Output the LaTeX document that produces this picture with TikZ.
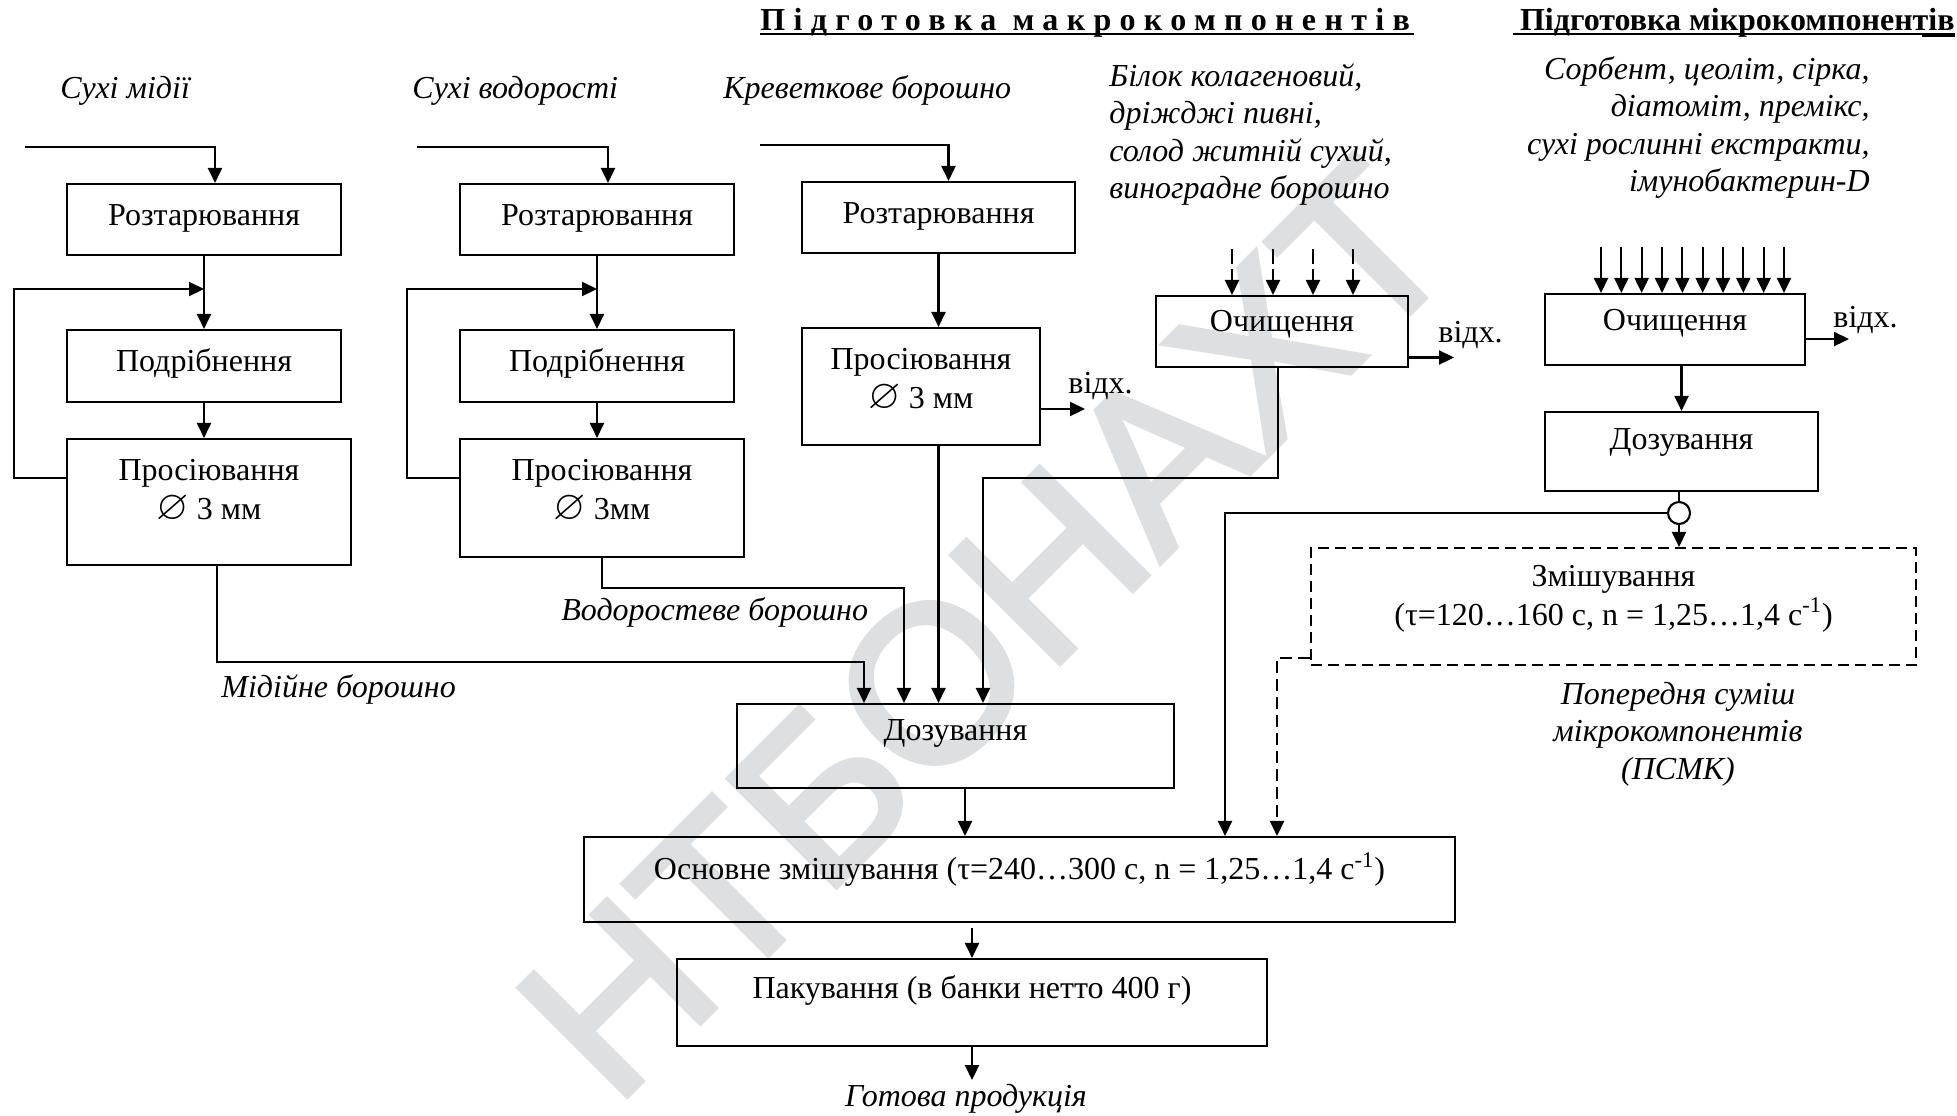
\documentclass[tikz,border=0pt]{standalone}
\usepackage{amssymb}
\usepackage{fontspec}
\setmainfont{Liberation Serif}
\newfontfamily\wmfont[FakeBold=2.5]{Liberation Sans}
\usetikzlibrary{arrows.meta,fit,calc}
\definecolor{wm}{RGB}{222,223,225}
\newcommand{\dia}{\scalebox{1.3}{$\varnothing$}}
\begin{document}
\begin{tikzpicture}[x=0.5pt,y=-0.5pt,
  every node/.style={font=\fontsize{16}{19.5}\selectfont},
  box/.style={draw,line width=1.05pt,inner sep=0pt},
  dbox/.style={box,dash pattern=on 5.5pt off 3pt},
  bt/.style={align=center,inner sep=0pt},
  lbl/.style={font=\fontsize{16}{18.75}\selectfont\itshape,inner sep=0pt},
  arr/.style={line width=1.05pt,-{Triangle[length=7.5pt,width=7pt]}},
  darr/.style={arr,dash pattern=on 6pt off 3pt},
  ln/.style={line width=1.05pt}]
\useasboundingbox (0,0) rectangle (1957,1115);
% watermark
\node[font=\wmfont\fontsize{111}{111}\selectfont,text=wm,rotate=45,anchor=base,inner sep=0pt] (wmk) at (1040,683) {НТБОНАХТ};
% titles
\node[font=\fontsize{16}{18}\selectfont\bfseries\addfontfeature{LetterSpace=26},anchor=base west,inner sep=0pt] (t1) at (760,30) {Підготовка макрокомпонентів};
\draw[line width=0.8pt] (760,34) -- (1414,34);
\node[font=\fontsize{16}{18}\selectfont\bfseries,anchor=base east,inner sep=0pt] (t2) at (1955,30) {Підготовка мікрокомпонентів};
\draw[line width=0.8pt] (1513,34) -- (1955,34);
\draw[line width=1.4pt] (1922,36) -- (1955,36);
% input labels
\node[lbl,anchor=base west] (in1) at (60,98) {Сухі мідії};
\node[lbl,anchor=base west] (in2) at (412,98) {Сухі водорості};
\node[lbl,anchor=base west] (in3) at (723,98) {Креветкове борошно};
\node[lbl,align=left,anchor=north west] (mlab) at (1109,63) {Білок колагеновий,\\дріжджі пивні,\\солод житній сухий,\\виноградне борошно};
\node[lbl,align=right,anchor=north east] (ulab) at (1870,56) {Сорбент, цеоліт, сірка,\\діатоміт, премікс,\\сухі рослинні екстракти,\\імунобактерин-D};
% column 1
\node[box,fit={(67,184) (341,255)}] (a1) {};
\node[bt,yshift=0.5pt] (a1t) at (a1.center) {Розтарювання};
\node[box,fit={(67,330) (341,402)}] (a2) {};
\node[bt,yshift=1.5pt] (a2t) at (a2.center) {Подрібнення};
\node[box,fit={(67,439) (351,565)}] (a3) {};
\node[bt,yshift=5.5pt] (a3t) at (a3.center) {Просіювання\\\dia\ 3 мм};
% column 2
\node[box,fit={(460,184) (734,255)}] (b1) {};
\node[bt,yshift=0.5pt] (b1t) at (b1.center) {Розтарювання};
\node[box,fit={(460,330) (734,402)}] (b2) {};
\node[bt,yshift=1.5pt] (b2t) at (b2.center) {Подрібнення};
\node[box,fit={(460,439) (744,557)}] (b3) {};
\node[bt,yshift=3.5pt] (b3t) at (b3.center) {Просіювання\\\dia\ 3мм};
% column 3
\node[box,fit={(802,182) (1075,253)}] (c1) {};
\node[bt,yshift=0.5pt] (c1t) at (c1.center) {Розтарювання};
\node[box,fit={(802,328) (1040,445)}] (c2) {};
\node[bt,yshift=3pt] (c2t) at (c2.center) {Просіювання\\\dia\ 3 мм};
% macro cleaning
\node[box,fit={(1156,296) (1408,367)}] (m1) {};
\node[bt,yshift=3.5pt] (m1t) at (m1.center) {Очищення};
% micro
\node[box,fit={(1545,294) (1805,365)}] (n1) {};
\node[bt,yshift=3pt] (n1t) at (n1.center) {Очищення};
\node[box,fit={(1545,412) (1818,491)}] (n2) {};
\node[bt,yshift=4.5pt] (n2t) at (n2.center) {Дозування};
\node[circle,draw,fill=white,line width=1.05pt,minimum size=11pt,inner sep=0pt] (cj) at (1679,513) {};
\node[dbox,fit={(1311,548) (1916,665)}] (dm) {};
\node[bt,yshift=4pt] (dmt) at (dm.center) {Змішування\\(τ=120…160 с, n = 1,25…1,4 с\textsuperscript{-1})};
\node[lbl,align=center] (plab) at (1678,734) {Попередня суміш\\мікрокомпонентів\\(ПСМК)};
% bottom
\node[box,fit={(737,704) (1174,788)}] (D) {};
\node[bt,yshift=6.5pt] (Dt) at (D.center) {Дозування};
\node[box,fit={(584,837) (1455,922)}] (M) {};
\node[bt,yshift=5pt] (Mt) at (M.center) {Основне змішування (τ=240…300 с, n = 1,25…1,4 с\textsuperscript{-1})};
\node[box,fit={(677,959) (1267,1046)}] (P) {};
\node[bt,yshift=6pt] (Pt) at (P.center) {Пакування (в банки нетто 400 г)};
\node[lbl,anchor=base] (out) at (966,1106) {Готова продукція};
\node[lbl,anchor=base west] (lab1) at (221,697) {Мідійне борошно};
\node[lbl,anchor=base west] (lab2) at (561,620) {Водоростеве борошно};
\node[anchor=base west,inner sep=0pt] (w1) at (1068,393) {відх.};
\node[anchor=base west,inner sep=0pt] (w2) at (1438,342) {відх.};
\node[anchor=base west,inner sep=0pt] (w3) at (1833,327) {відх.};
% coordinates
\coordinate (a0) at (25,147);
\coordinate (b0) at (417,147);
\coordinate (c0) at (760,145);
\coordinate (L1) at (14,289);
\coordinate (L2) at (407,289);
\coordinate (J1) at (864,662);
\coordinate (J2) at (904,588);
\coordinate (J4) at (983,478);
\coordinate (J5) at (1225,513);
\coordinate (J6) at (1277,658);
\coordinate (E1) at (1085,0);
\coordinate (E2) at (1454,0);
\coordinate (E3) at (1849,0);
\coordinate (fin) at (969,1080);
% column 1 connectors
\draw[arr] (a0) -| ([xshift=5.5pt]a1.north);
\draw[arr] (a1.south) -- (a2.north);
\draw[arr] (a2.south) -- (a2.south |- a3.north);
\draw[arr] ([yshift=12pt]a3.west) -| (L1) -- (L1 -| a1.south);
\draw[arr] ([xshift=4pt]a3.south) |- (J1) -- (J1 |- D.north);
% column 2 connectors
\draw[arr] (b0) -| ([xshift=5.5pt]b1.north);
\draw[arr] (b1.south) -- (b2.north);
\draw[arr] (b2.south) -- (b2.south |- b3.north);
\draw[arr] ([yshift=10pt]b3.west) -| (L2) -- (L2 -| b1.south);
\draw[arr] (b3.south) |- (J2) -- (J2 |- D.north);
% column 3 connectors
\draw[arr] (c0) -| ([xshift=5pt]c1.north);
\draw[arr] (c1.south) -- (c1.south |- c2.north);
\draw[arr] ([yshift=-11.25pt]c2.east) -- ([yshift=-11.25pt]c2.east -| E1);
\draw[arr] (c1.south |- c2.south) -- (c1.south |- D.north);
% macro cleaning
\foreach \xx [count=\i] in {1232,1273,1313,1353}{
  \coordinate (mi\i) at (\xx,249);
  \draw[arr,dash pattern=on 7.5pt off 2.5pt] (mi\i) -- (mi\i |- m1.north);
}
\draw[arr] ([yshift=-13pt]m1.east) -- ([yshift=-13pt]m1.east -| E2);
\draw[arr] ([xshift=-2pt]m1.south) |- (J4) -- (J4 |- D.north);
% micro
\foreach \i in {0,...,9}{
  \coordinate (ni\i) at ({1601+20.33*\i},247);
  \draw[arr] (ni\i) -- (ni\i |- n1.north);
}
\draw[arr] ([yshift=-4.75pt]n1.east) -- ([yshift=-4.75pt]n1.east -| E3);
\draw[arr] (n2.north |- n1.south) -- (n2.north);
\draw[ln] (n2.south -| cj.north) -- (cj.north);
\draw[arr] (cj.west) -- (J5) -- (J5 |- M.north);
\draw[arr] (cj.south) -- (cj.south |- dm.north);
\draw[darr] (J6 -| dm.west) -- (J6) -- (J6 |- M.north);
% bottom
\draw[arr] ([xshift=4.75pt]D.south) -- ([xshift=4.75pt]D.south |- M.north);
\draw[arr] ($(M.south -| P.north)+(0,5)$) -- (P.north);
\draw[arr] (P.south) -- (P.south |- fin);
\end{tikzpicture}
\end{document}
